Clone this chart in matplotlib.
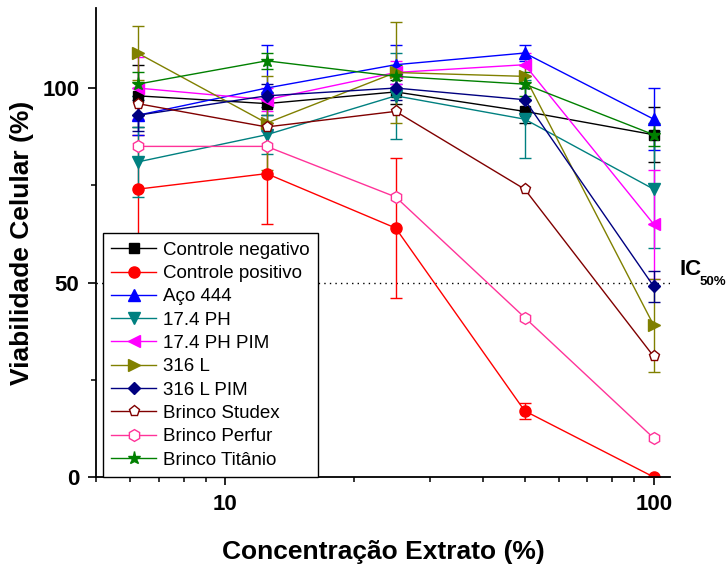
import matplotlib
matplotlib.use("Agg")
import matplotlib.pyplot as plt
from matplotlib.ticker import MultipleLocator, FixedLocator, FixedFormatter, LogLocator, NullFormatter

plt.rcParams['font.family'] = ['Liberation Sans', 'DejaVu Sans']

# concentrations (%)
conc = [6.25, 12.5, 25, 50, 100]

# viability (%) and error
neg = [98, 96, 99, 94, 88]
neg_err = [8, 3, 3, 3, 7]
pos = [74, 78, 64, 17, 0]
pos_err = [14, 13, 18, 2, 0]
aco = [93, 100, 106, 109, 92]
aco_err = [5, 11, 5, 2, 8]
ph = [81, 88, 98, 92, 74]
ph_err = [9, 5, 11, 10, 15]
ph_pim = [100, 97, 104, 106, 65]
ph_pim_err = [8, 3, 3, 3, 14]
l316 = [109, 91, 104, 103, 39]
l316_err = [7, 12, 13, 3, 12]
l316_pim = [93, 98, 100, 97, 49]
l316_pim_err = [4, 3, 3, 3, 4]
studex = [96, 90, 94, 74, 31]
perfur = [85, 85, 72, 41, 10]
titanio = [101, 107, 103, 101, 88]
titanio_err = [3, 2, 3, 3, 3]

labels = ["Controle negativo", "Controle positivo", "Aço 444", "17.4 PH", "17.4 PH PIM",
          "316 L", "316 L PIM", "Brinco Studex", "Brinco Perfur", "Brinco Titânio"]

series = [
    (neg, neg_err, "black", "s", 7, False),
    (pos, pos_err, "#ff0000", "o", 8, False),
    (aco, aco_err, "#0000ff", "^", 8, False),
    (ph, ph_err, "#008080", "v", 8, False),
    (ph_pim, ph_pim_err, "#ff00ff", "<", 8, False),
    (l316, l316_err, "#808000", ">", 8, False),
    (l316_pim, l316_pim_err, "#000080", "D", 6.5, False),
    (studex, None, "#800000", "p", 8, True),
    (perfur, None, "#ff3399", "h", 8.5, True),
    (titanio, titanio_err, "#008000", "*", 9.5, False),
]

fig = plt.figure(figsize=(7.28, 5.73), dpi=100)
ax = fig.add_axes([0.132, 0.1675, 0.788, 0.818])

handles = []
for (vals, err, col, mk, ms, hollow), lab in zip(series, labels):
    c = ax.errorbar(conc, vals, yerr=err, color=col, marker=mk, ms=ms, lw=1,
                    elinewidth=1, capsize=4, capthick=1,
                    mfc="white" if hollow else col, mec=col)
    handles.append(c.lines[0])

# IC50 reference line
ax.axhline(50, color="black", ls=(0, (1, 3)), lw=1, zorder=0)
ax.text(1.017, 52, "IC", transform=ax.get_yaxis_transform(), fontsize=16,
        fontweight="bold", ha="left", va="baseline")
ax.text(1.052, 49.3, "50%", transform=ax.get_yaxis_transform(), fontsize=9.5,
        fontweight="bold", ha="left", va="baseline")

ax.set_xscale("log")
ax.set_xlim(5, 109)
ax.set_ylim(0, 120.5)

ax.xaxis.set_major_locator(FixedLocator([10, 100]))
ax.xaxis.set_major_formatter(FixedFormatter(["10", "100"]))
ax.xaxis.set_minor_locator(LogLocator(base=10, subs=range(2, 10)))
ax.xaxis.set_minor_formatter(NullFormatter())
ax.yaxis.set_major_locator(MultipleLocator(50))
ax.yaxis.set_minor_locator(MultipleLocator(25))

for s in ["top", "right"]:
    ax.spines[s].set_visible(False)
for s in ["left", "bottom"]:
    ax.spines[s].set_linewidth(1.3)

ax.tick_params(which="major", direction="out", length=6, width=1.2, labelsize=16, pad=6)
ax.tick_params(which="minor", direction="out", length=3.5, width=1.1)
for t in ax.get_xticklabels() + ax.get_yticklabels():
    t.set_fontweight("bold")

ax.set_xlabel("Concentração Extrato (%)", fontsize=19, fontweight="bold", labelpad=18)
ax.set_ylabel("Viabilidade Celular (%)", fontsize=19, fontweight="bold", labelpad=6)

leg = ax.legend(handles, labels, loc="lower left", bbox_to_anchor=(0.012, 0.0),
                borderaxespad=0, fontsize=13.5, frameon=True, fancybox=False,
                edgecolor="black", framealpha=1, handlelength=2.4,
                handletextpad=0.35, labelspacing=0.33, borderpad=0.45)
leg.get_frame().set_linewidth(1)

fig.savefig("out.png", dpi=100)
